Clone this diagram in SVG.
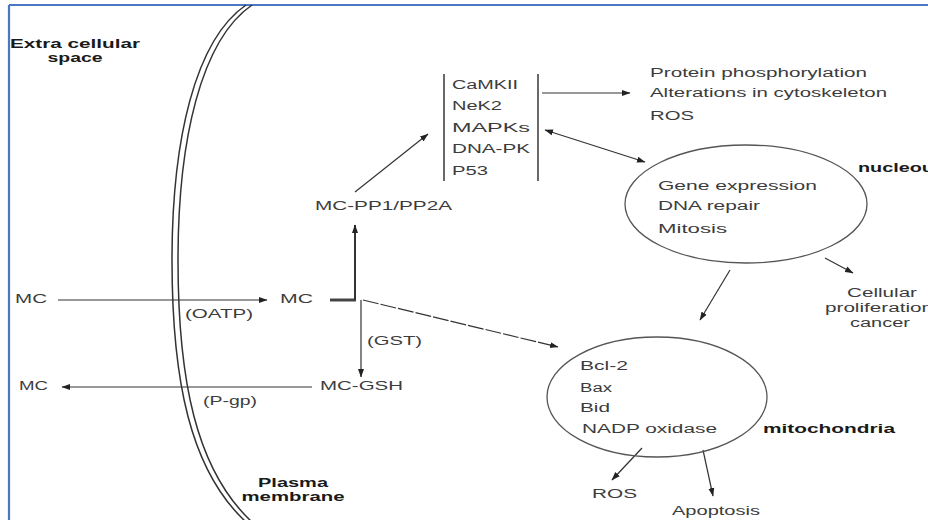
<svg xmlns="http://www.w3.org/2000/svg" width="928" height="520" viewBox="0 0 928 520">
<style>
.t{font-family:"Liberation Sans",Arial,sans-serif;font-size:12px;fill:#3c3c3c}
.b{font-family:"Liberation Sans",Arial,sans-serif;font-size:12px;font-weight:bold;fill:#1a1a1a}
.c{text-anchor:middle}
.ln{stroke:#333;stroke-width:1.2;fill:none}
.mem{stroke:#333;stroke-width:1.5;fill:none}
.org{stroke:#555;stroke-width:1.3;fill:none}
.bar{stroke:#444;stroke-width:1.6}
.frame{stroke:#4a78c4;stroke-width:2.2}
</style>
<defs>
<marker id="ah" markerUnits="userSpaceOnUse" markerWidth="9" markerHeight="7" refX="8" refY="3.5" orient="auto-start-reverse">
<path d="M0,0.5 L8.5,3.5 L0,6.5 z" fill="#222"/>
</marker>
</defs>
<rect width="928" height="520" fill="#fff"/>
<line class="frame" x1="9" y1="5" x2="928" y2="5"/>
<line class="frame" x1="9" y1="5" x2="9" y2="520"/>

<g id="membrane">
<path class="mem" d="M246 5 C195 40,172 140,172 260 C172 380,190 470,246 522"/>
<path class="mem" d="M252 5 C201 40,178 140,178 260 C178 380,196 470,252 522"/>
</g>

<g id="labels">
<text class="b c" x="75" y="48" textLength="130" lengthAdjust="spacingAndGlyphs">Extra cellular</text>
<text class="b c" x="75" y="62" textLength="55" lengthAdjust="spacingAndGlyphs">space</text>
<text class="b c" x="293" y="487" textLength="70" lengthAdjust="spacingAndGlyphs">Plasma</text>
<text class="b c" x="293" y="501" textLength="103" lengthAdjust="spacingAndGlyphs">membrane</text>
</g>

<g id="connectors">
<line class="ln" x1="58" y1="300" x2="267" y2="300" marker-end="url(#ah)"/>
<line x1="330" y1="300" x2="356" y2="300" stroke="#444" stroke-width="3"/>
<line x1="355" y1="300" x2="355" y2="225" stroke="#333" stroke-width="2" marker-end="url(#ah)"/>
<line class="ln" x1="361" y1="300" x2="361" y2="377" marker-end="url(#ah)"/>
<line class="ln" x1="312" y1="387" x2="62" y2="387" marker-end="url(#ah)"/>
<line class="ln" x1="363" y1="300" x2="558" y2="347" stroke-dasharray="16 2" marker-end="url(#ah)"/>
<line class="ln" x1="355" y1="192" x2="428" y2="134" marker-end="url(#ah)"/>
<line class="ln" x1="542" y1="93" x2="630" y2="93" marker-end="url(#ah)"/>
<line class="ln" x1="545" y1="130" x2="645" y2="162" marker-start="url(#ah)" marker-end="url(#ah)"/>
<line class="ln" x1="730" y1="270" x2="700" y2="320" marker-end="url(#ah)"/>
<line class="ln" x1="825" y1="258" x2="853" y2="273" marker-end="url(#ah)"/>
<line class="ln" x1="642" y1="448" x2="612" y2="480" marker-end="url(#ah)"/>
<line class="ln" x1="703" y1="450" x2="713" y2="496" marker-end="url(#ah)"/>
</g>

<g id="mc-out">
<text class="t" x="15" y="303" textLength="32" lengthAdjust="spacingAndGlyphs">MC</text>
</g>
<g id="oatp">
<text class="t" x="185" y="318" textLength="68" lengthAdjust="spacingAndGlyphs">(OATP)</text>
</g>
<g id="mc-in">
<text class="t" x="280" y="303" textLength="33" lengthAdjust="spacingAndGlyphs">MC</text>
</g>
<g id="gst">
<text class="t" x="367" y="345" textLength="55" lengthAdjust="spacingAndGlyphs">(GST)</text>
</g>
<g id="mc-gsh">
<text class="t" x="320" y="390" textLength="83" lengthAdjust="spacingAndGlyphs">MC-GSH</text>
</g>
<g id="mc-efflux">
<text class="t" x="19" y="390" textLength="29" lengthAdjust="spacingAndGlyphs">MC</text>
</g>
<g id="pgp">
<text class="t" x="203" y="405" textLength="54" lengthAdjust="spacingAndGlyphs">(P-gp)</text>
</g>
<g id="mc-pp">
<text class="t" x="315" y="210" textLength="137" lengthAdjust="spacingAndGlyphs">MC-PP1/PP2A</text>
</g>

<g id="kinases">
<line class="bar" x1="444" y1="74" x2="444" y2="181"/>
<line class="bar" x1="538" y1="74" x2="538" y2="181"/>
<text class="t" x="452" y="89" textLength="66" lengthAdjust="spacingAndGlyphs">CaMKII</text>
<text class="t" x="452" y="110" textLength="50" lengthAdjust="spacingAndGlyphs">NeK2</text>
<text class="t" x="452" y="132" textLength="78" lengthAdjust="spacingAndGlyphs">MAPKs</text>
<text class="t" x="452" y="153" textLength="78" lengthAdjust="spacingAndGlyphs">DNA-PK</text>
<text class="t" x="452" y="175" textLength="36" lengthAdjust="spacingAndGlyphs">P53</text>
</g>

<g id="effects">
<text class="t" x="650" y="77" textLength="217" lengthAdjust="spacingAndGlyphs">Protein phosphorylation</text>
<text class="t" x="650" y="97" textLength="237" lengthAdjust="spacingAndGlyphs">Alterations in cytoskeleton</text>
<text class="t" x="650" y="120" textLength="44" lengthAdjust="spacingAndGlyphs">ROS</text>
</g>

<g id="nucleus">
<ellipse class="org" cx="746" cy="204" rx="121" ry="59"/>
<text class="t" x="658" y="190" textLength="159" lengthAdjust="spacingAndGlyphs">Gene expression</text>
<text class="t" x="658" y="210" textLength="102" lengthAdjust="spacingAndGlyphs">DNA repair</text>
<text class="t" x="658" y="233" textLength="69" lengthAdjust="spacingAndGlyphs">Mitosis</text>
<text class="b" x="858" y="172" textLength="87" lengthAdjust="spacingAndGlyphs">nucleous</text>
</g>

<g id="proliferation">
<text class="t c" x="882" y="297" textLength="70" lengthAdjust="spacingAndGlyphs">Cellular</text>
<text class="t c" x="879" y="312" textLength="108" lengthAdjust="spacingAndGlyphs">proliferation</text>
<text class="t c" x="880" y="327" textLength="60" lengthAdjust="spacingAndGlyphs">cancer</text>
</g>

<g id="mitochondria">
<ellipse class="org" cx="657" cy="397" rx="110" ry="60"/>
<text class="t" x="580" y="370" textLength="48" lengthAdjust="spacingAndGlyphs">Bcl-2</text>
<text class="t" x="580" y="392" textLength="32" lengthAdjust="spacingAndGlyphs">Bax</text>
<text class="t" x="580" y="412" textLength="30" lengthAdjust="spacingAndGlyphs">Bid</text>
<text class="t" x="582" y="433" textLength="135" lengthAdjust="spacingAndGlyphs">NADP oxidase</text>
<text class="b" x="763" y="433" textLength="132" lengthAdjust="spacingAndGlyphs">mitochondria</text>
</g>

<g id="ros">
<text class="t" x="592" y="498" textLength="45" lengthAdjust="spacingAndGlyphs">ROS</text>
</g>
<g id="apoptosis">
<text class="t" x="672" y="515" textLength="88" lengthAdjust="spacingAndGlyphs">Apoptosis</text>
</g>
</svg>
